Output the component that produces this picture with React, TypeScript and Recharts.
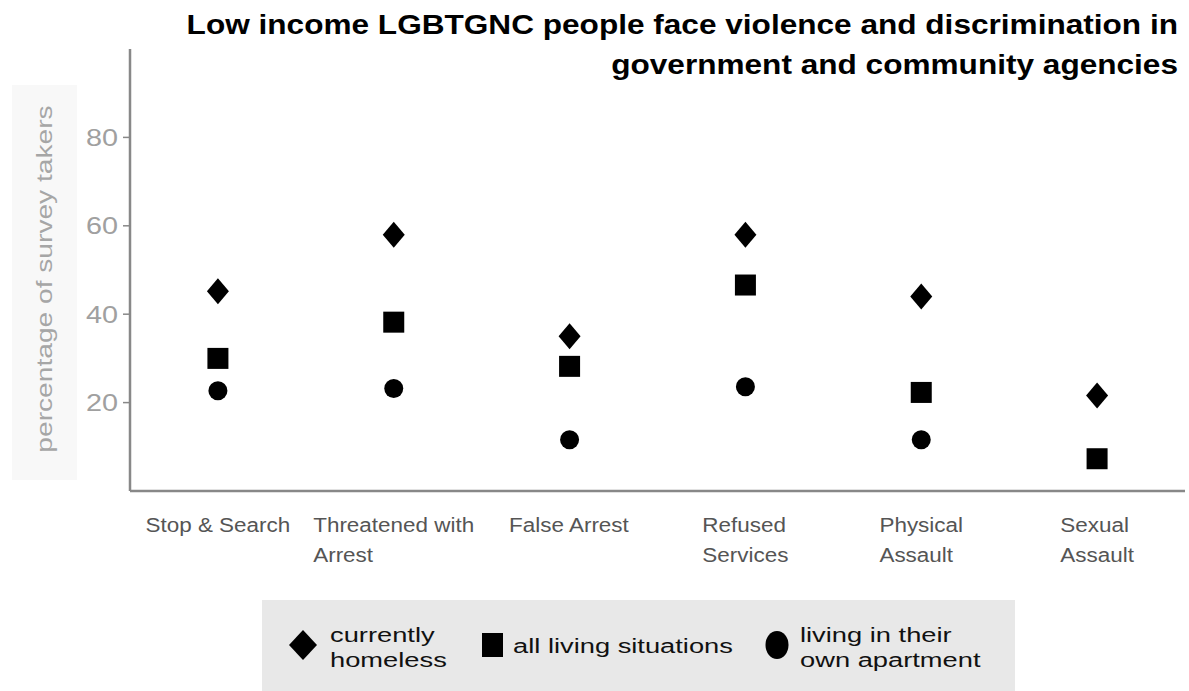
import React from 'react'
import { ScatterChart, Scatter, XAxis, YAxis, Legend, Label } from 'recharts'

// values
const categories = [
  'Stop & Search',
  'Threatened with\nArrest',
  'False Arrest',
  'Refused\nServices',
  'Physical\nAssault',
  'Sexual\nAssault'
]
const currentlyHomeless = [45.2, 58, 35, 58, 44, 21.6]
const allLivingSituations = [30, 38.2, 28.2, 46.6, 22.3, 7.3]
const ownApartment: (number | null)[] = [22.7, 23.2, 11.6, 23.6, 11.6, null]
const yTicks = [20, 40, 60, 80]
const titleLines = [
  'Low income LGBTGNC people face violence and discrimination in',
  'government and community agencies'
]
const seriesNames = ['currently\nhomeless', 'all living situations', 'living in their\nown apartment']
const yLabel = 'percentage of survey takers'

const FONT = '"Liberation Sans", Arial, Helvetica, sans-serif'

const data = categories.map((name, i) => ({
  name,
  homeless: currentlyHomeless[i],
  all: allLivingSituations[i],
  own: ownApartment[i]
}))

let ctx: CanvasRenderingContext2D | null = null
function measure(text: string, font: string) {
  if (!ctx) ctx = document.createElement('canvas').getContext('2d')
  if (!ctx) return text.length * 10
  ctx.font = font
  return ctx.measureText(text).width
}

// text drawn a bit wider than the font, like the reference
const SText = (p: any) => (
  <text
    transform={`translate(${p.x},${p.y})${p.rotate ? ` rotate(${p.rotate})` : ''} scale(${p.sx},1)`}
    textAnchor={p.anchor || 'start'}
    fontSize={p.size}
    fill={p.fill}
    fontWeight={p.weight || 'normal'}
    fontFamily={FONT}
  >
    {p.children}
  </text>
)

const XTick = (props: any) => {
  const { x, y, payload } = props
  const lines = String(payload.value).split('\n')
  const sx = 1.07
  const w = Math.max(...lines.map(l => measure(l, `21px ${FONT}`))) * sx
  return (
    <g>
      {lines.map((l, i) => (
        <SText key={i} x={x - w / 2} y={y + 41 + i * 30} sx={sx} size={21} fill="#555">
          {l}
        </SText>
      ))}
    </g>
  )
}

const YTick = (props: any) => {
  const { x, y, payload } = props
  return (
    <SText x={x} y={y + 8.5} sx={1.2} size={24} fill="#a0a0a0" anchor="end">
      {payload.value}
    </SText>
  )
}

const YLabel = () => (
  <g>
    <rect x={12} y={85} width={65} height={395} fill="#f8f8f8" />
    <SText x={52} y={279} rotate={-90} sx={1.28} size={22} fill="#a6a6a6" anchor="middle">
      {yLabel}
    </SText>
  </g>
)

const Diamond = (p: any) => {
  const { cx, cy } = p
  if (cx == null || cy == null) return <g />
  return <path d={`M${cx},${cy - 13}L${cx + 11},${cy}L${cx},${cy + 13}L${cx - 11},${cy}Z`} fill="#000" />
}
const Square = (p: any) => {
  const { cx, cy } = p
  if (cx == null || cy == null) return <g />
  return <rect x={cx - 10.5} y={cy - 10.5} width={21} height={21} fill="#000" />
}
const Dot = (p: any) => {
  const { cx, cy } = p
  if (cx == null || cy == null) return <g />
  return <circle cx={cx} cy={cy} r={9.5} fill="#000" />
}

const LegendBox = () => {
  const textProps = { sx: 1.3, size: 21, fill: '#111' }
  const [n1, n2, n3] = seriesNames.map(s => s.split('\n'))
  return (
    <div style={{ width: 753, height: 91, background: '#e8e8e8' }}>
      <svg width={753} height={91}>
        <path d="M41,30L55,45L41,60L27,45Z" fill="#000" />
        <SText x={68} y={42} {...textProps}>{n1[0]}</SText>
        <SText x={68} y={67} {...textProps}>{n1[1]}</SText>
        <rect x={220} y={33} width={21} height={24} fill="#000" />
        <SText x={251} y={53} {...textProps}>{n2[0]}</SText>
        <ellipse cx={515} cy={45} rx={11.5} ry={14} fill="#000" />
        <SText x={538} y={42} {...textProps}>{n3[0]}</SText>
        <SText x={538} y={67} {...textProps}>{n3[1]}</SText>
      </svg>
    </div>
  )
}

export default function App() {
  return (
    <div style={{ position: 'absolute', left: 0, top: 0, width: 1189, height: 691, background: '#fff' }}>
      <ScatterChart width={1189} height={691} margin={{ top: 49, right: 4, left: 0, bottom: 0 }}>
        <XAxis
          dataKey="name"
          type="category"
          allowDuplicatedCategory={false}
          height={109}
          interval={0}
          axisLine={{ stroke: '#888', strokeWidth: 2.5 }}
          tickLine={false}
          tickSize={0}
          tickMargin={0}
          tick={<XTick />}
        />
        <YAxis
          type="number"
          domain={[0, 100]}
          ticks={yTicks}
          width={130}
          axisLine={{ stroke: '#888', strokeWidth: 2.5 }}
          tickLine={{ stroke: '#888', strokeWidth: 1.5 }}
          tickSize={7}
          tickMargin={5}
          tick={<YTick />}
        >
          <Label content={<YLabel />} />
        </YAxis>
        <Legend
          verticalAlign="bottom"
          content={<LegendBox />}
          wrapperStyle={{ left: 262, width: 753, bottom: 0 }}
        />
        <Scatter name="currently homeless" data={data} dataKey="homeless" shape={<Diamond />} isAnimationActive={false} />
        <Scatter name="all living situations" data={data} dataKey="all" shape={<Square />} isAnimationActive={false} />
        <Scatter
          name="living in their own apartment"
          data={data.filter(d => d.own != null)}
          dataKey="own"
          shape={<Dot />}
          isAnimationActive={false}
        />
      </ScatterChart>
      <svg width={1189} height={90} style={{ position: 'absolute', left: 0, top: 0, pointerEvents: 'none' }}>
        {titleLines.map((t, i) => (
          <SText key={i} x={1178} y={34 + i * 40} sx={1.17} size={27} weight="bold" fill="#000" anchor="end">
            {t}
          </SText>
        ))}
      </svg>
    </div>
  )
}
